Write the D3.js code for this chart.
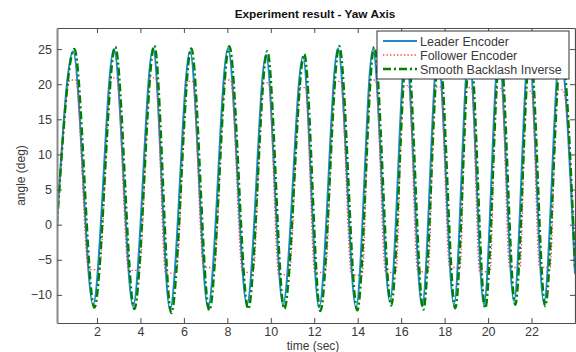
<!DOCTYPE html>
<html>
<head>
<meta charset="utf-8">
<script src="https://cdn.jsdelivr.net/npm/d3@7"></script>
<style>
  body { margin: 0; background: #fff; }
  svg { font-family: "Liberation Sans", Arial, sans-serif; }
</style>
</head>
<body>
<div id="plotDiv"></div>
<script>
//----------------------------------------------------------------------------------------------------
// values (turning points of each trace)
var leaderTime  = [0.16, 0.90, 1.82, 2.78, 3.66, 4.58, 5.36, 6.28, 7.11, 8.03, 8.90, 9.78, 10.56,
                   11.48, 12.22, 13.09, 13.92, 14.70, 15.48, 16.22, 16.96, 17.69, 18.43, 19.12,
                   19.81, 20.50, 21.19, 21.88, 22.57, 23.31, 24.00];
var leaderAngle = [0.3, 24.7, -11.4, 25.0, -11.6, 25.1, -12.1, 24.7, -11.8, 25.1, -11.4, 24.2, -11.4,
                   23.9, -11.8, 25.1, -11.8, 25.0, -10.9, 25.0, -11.6, 24.5, -11.4, 24.8,
                   -11.4, 24.6, -10.9, 24.8, -11.1, 24.5, -7.0];

var followerTime  = [0.16, 0.78, 1.02, 1.62, 2.10, 2.66, 2.90, 3.46, 3.94, 4.46, 4.70, 5.16, 5.64,
                     6.16, 6.40, 6.91, 7.39, 7.91, 8.15, 8.70, 9.18, 9.66, 9.90, 10.36, 10.84,
                     11.36, 11.60, 12.02, 12.50, 12.97, 13.21, 13.72, 14.20, 14.58, 14.82, 15.28, 15.76,
                     16.10, 16.34, 16.76, 17.24, 17.57, 17.81, 18.23, 18.71, 19.00, 19.24, 19.61, 20.09,
                     20.38, 20.62, 20.99, 21.47, 21.76, 22.00, 22.37, 22.85, 23.19, 23.43, 24.00];
var followerAngle = [0.5, 20.6, 20.6, -6.4, -6.4, 20.9, 20.9, -6.5, -6.5, 20.9, 20.9, -6.9, -6.9,
                     20.4, 20.4, -6.1, -6.1, 20.6, 20.6, -6.8, -6.8, 20.2, 20.2, -7.1, -7.1,
                     19.5, 19.5, -6.8, -6.8, 20.4, 20.4, -7.2, -7.2, 20.6, 20.6, -6.8, -6.8,
                     19.8, 19.8, -6.7, -6.7, 19.6, 19.6, -6.1, -6.1, 19.5, 19.5, -6.7, -6.7,
                     19.4, 19.4, -6.1, -6.1, 19.0, 19.0, -6.1, -6.1, 19.2, 19.2, -3.0];

var smoothTime  = [0.16, 0.96, 1.88, 2.84, 3.72, 4.64, 5.42, 6.34, 7.17, 8.09, 8.96, 9.84, 10.62,
                   11.54, 12.28, 13.15, 13.98, 14.76, 15.54, 16.28, 17.02, 17.75, 18.49, 19.18,
                   19.87, 20.56, 21.25, 21.94, 22.63, 23.37, 24.00];
var smoothAngle = [0.0, 25.0, -11.8, 25.3, -12.0, 25.5, -12.6, 25.1, -12.2, 25.4, -12.0, 24.7, -12.0,
                   24.3, -12.3, 25.4, -12.2, 25.3, -11.5, 25.3, -12.1, 24.9, -11.9, 25.2,
                   -11.9, 25.0, -11.4, 25.2, -11.6, 24.9, -6.0];

var xTicks = [2, 4, 6, 8, 10, 12, 14, 16, 18, 20, 22];
var yTicks = [-10, -5, 0, 5, 10, 15, 20, 25];
var seriesNames = ["Leader Encoder", "Follower Encoder", "Smooth Backlash Inverse"];

//----------------------------------------------------------------------------------------------------
function drawChart()
{
   var width = 576, height = 352;
   var left = 57, right = 575, top = 28, bottom = 323;
   var textColor = "#3a3a3a";

   var svg = d3.select("#plotDiv").append("svg")
      .attr("width", width)
      .attr("height", height);

   svg.append("rect").attr("width", width).attr("height", height).attr("fill", "#fff");

   var xScale = d3.scaleLinear().domain([0.16, 24]).range([left, right]);
   var yScale = d3.scaleLinear().domain([-14, 28]).range([bottom, top]);   // upside down y

   svg.append("defs").append("clipPath").attr("id", "plotClip")
      .append("rect")
      .attr("x", left).attr("y", top)
      .attr("width", right - left).attr("height", bottom - top);

   var series = [
      {name: seriesNames[0], t: leaderTime,   v: leaderAngle,   color: "#1e8ad2", width: 2,   dash: null},
      {name: seriesNames[1], t: followerTime, v: followerAngle, color: "#ff3a3a", width: 1.3, dash: "1.3,2.2"},
      {name: seriesNames[2], t: smoothTime,   v: smoothAngle,   color: "#008000", width: 2.4, dash: "8,3,2,3"}
      ];

   var line = d3.line()
      .x(function(d){ return xScale(d[0]); })
      .y(function(d){ return yScale(d[1]); })
      .curve(d3.curveMonotoneX);

   var plotArea = svg.append("g").attr("clip-path", "url(#plotClip)");

   series.forEach(function(s){
      var pts = s.t.map(function(t, i){ return [t, s.v[i]]; });
      plotArea.append("path")
         .attr("d", line(pts))
         .attr("fill", "none")
         .attr("stroke", s.color)
         .attr("stroke-width", s.width)
         .attr("stroke-dasharray", s.dash);
      });

      // axes, ticks pointing inward on all four sides
   var axisColor = "#4d4d4d";

   svg.append("g")
      .attr("transform", "translate(0," + bottom + ")")
      .call(d3.axisBottom(xScale).tickValues(xTicks).tickSizeInner(-5).tickSizeOuter(0).tickPadding(4));

   var leftAxis = svg.append("g")
      .attr("transform", "translate(" + left + ",0)")
      .call(d3.axisLeft(yScale).tickValues(yTicks).tickSizeInner(-5).tickSizeOuter(0).tickPadding(5));

   svg.append("g")
      .attr("transform", "translate(0," + top + ")")
      .call(d3.axisTop(xScale).tickValues(xTicks).tickSizeInner(-5).tickSizeOuter(0).tickFormat(""));

   svg.append("g")
      .attr("transform", "translate(" + right + ",0)")
      .call(d3.axisRight(yScale).tickValues(yTicks).tickSizeInner(-5).tickSizeOuter(0).tickFormat(""));

   svg.selectAll(".domain").attr("stroke", axisColor).attr("stroke-width", 1.2);
   svg.selectAll(".tick line").attr("stroke", axisColor);
   svg.selectAll(".tick text")
      .attr("fill", textColor)
      .style("font-size", "12.5px")
      .style("font-family", "'Liberation Sans', Arial, sans-serif");
   leftAxis.select(".domain").attr("stroke", "#8a8a8a").attr("stroke-width", 2);

      // title and labels
   svg.append("text")
      .attr("x", (left + right) / 2 - 1).attr("y", 18)
      .attr("text-anchor", "middle")
      .style("font-size", "11.8px").style("font-weight", "bold")
      .attr("fill", "#111")
      .text("Experiment result - Yaw Axis");

   svg.append("text")
      .attr("x", 313).attr("y", 350)
      .attr("text-anchor", "middle")
      .style("font-size", "12px")
      .attr("fill", textColor)
      .text("time (sec)");

   svg.append("text")
      .attr("transform", "translate(25," + ((top + bottom) / 2) + ") rotate(-90)")
      .attr("text-anchor", "middle")
      .style("font-size", "12px")
      .attr("fill", textColor)
      .text("angle (deg)");

      // legend
   var legend = svg.append("g").attr("transform", "translate(377,31)");
   legend.append("rect")
      .attr("width", 192).attr("height", 48)
      .attr("fill", "#fff").attr("stroke", "#333").attr("stroke-width", 1);

   series.forEach(function(s, i){
      var yRow = 10 + i * 14;
      legend.append("line")
         .attr("x1", 6).attr("x2", 40)
         .attr("y1", yRow).attr("y2", yRow)
         .attr("stroke", s.color)
         .attr("stroke-width", s.width)
         .attr("stroke-dasharray", s.dash);
      legend.append("text")
         .attr("x", 43).attr("y", yRow + 4.5)
         .style("font-size", "12.5px")
         .attr("fill", textColor)
         .text(s.name);
      });

} // drawChart
//----------------------------------------------------------------------------------------------------
drawChart();
</script>
</body>
</html>
